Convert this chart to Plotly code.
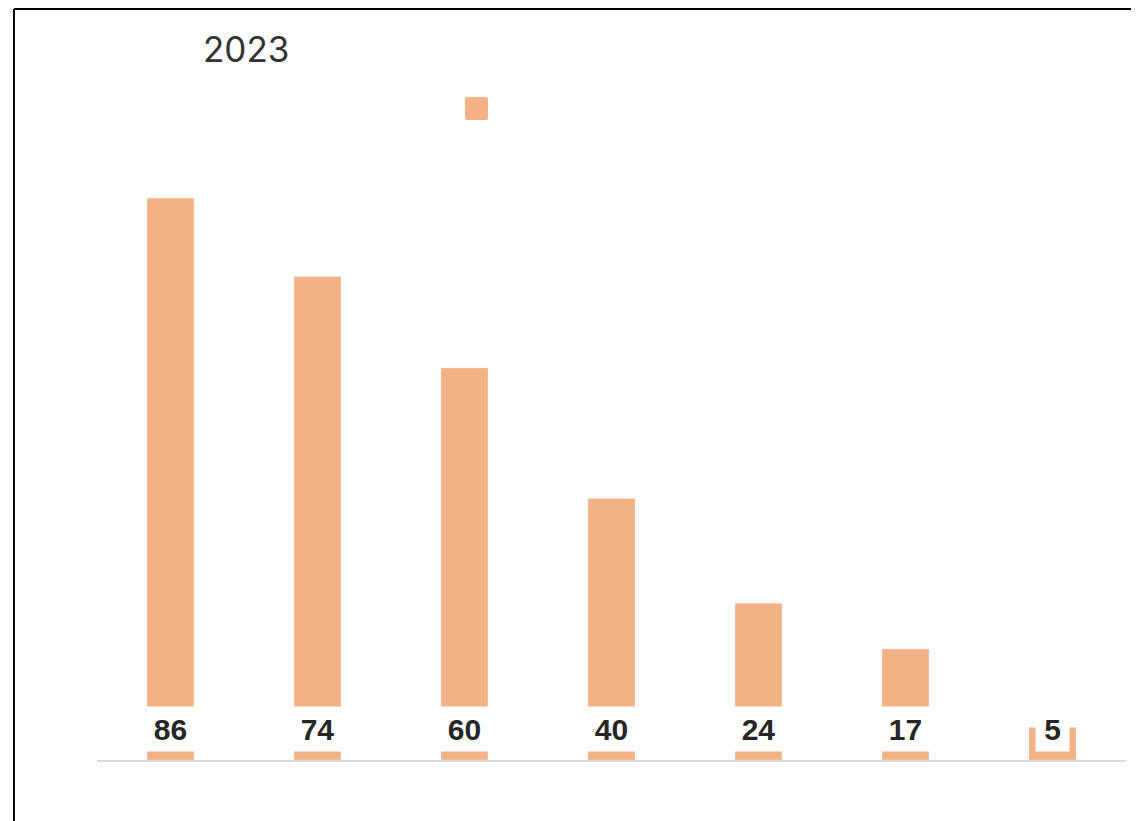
import plotly.graph_objects as go

# data
categories = ["A", "B", "C", "D", "E", "F", "G"]
values = [86, 74, 60, 40, 24, 17, 5]
title_text = "2023"

bar_color = "#F4B183"

fig = go.Figure()
fig.add_trace(go.Bar(x=categories, y=values, marker_color=bar_color,
                     showlegend=False, hoverinfo="skip"))

# value labels sitting in white boxes near the bar base
for cat, v in zip(categories, values):
    txt = str(v)
    fig.add_annotation(x=cat, y=4.75, xref="x", yref="y", text=f"<b>{txt}</b>",
                       showarrow=False, bgcolor="white",
                       width=16 * len(txt) + 15, height=42,
                       font=dict(family="Liberation Sans, Arial", size=30, color="#262626"))

# title
fig.add_annotation(x=0.101, y=1.166, xref="paper", yref="paper", text=title_text,
                   showarrow=False, xanchor="left", yanchor="middle",
                   font=dict(family="Inter, Open Sans", size=35, color="#333333"))

# legend swatch (no text), small rounded corners
x0, x1, y0, y1 = 0.3576, 0.38, 1.0492, 1.0869
rx, ry = 0.002, 0.0033
swatch = (f"M {x0+rx},{y0} L {x1-rx},{y0} Q {x1},{y0} {x1},{y0+ry} "
          f"L {x1},{y1-ry} Q {x1},{y1} {x1-rx},{y1} L {x0+rx},{y1} "
          f"Q {x0},{y1} {x0},{y1-ry} L {x0},{y0+ry} Q {x0},{y0} {x0+rx},{y0} Z")
fig.add_shape(type="path", xref="paper", yref="paper", path=swatch,
              fillcolor=bar_color, line=dict(width=0))

# outer frame: only top and left edges are in view
fig.add_shape(type="line", xref="paper", yref="paper",
              x0=-0.0807, x1=1.1, y0=1.2312, y1=1.2312,
              line=dict(color="black", width=2))
fig.add_shape(type="line", xref="paper", yref="paper",
              x0=-0.0807, x1=-0.0807, y0=-0.2, y1=1.2312,
              line=dict(color="black", width=2))

fig.update_xaxes(showticklabels=False, showgrid=False, zeroline=False,
                 showline=True, linecolor="#d9d9d9", linewidth=2, ticks="")
fig.update_yaxes(visible=False, range=[0, 93.35], showgrid=False)

fig.update_layout(width=1131, height=813, bargap=0.68,
                  plot_bgcolor="white", paper_bgcolor="white",
                  margin=dict(l=89, r=13, t=142, b=61),
                  showlegend=False)

fig.write_html("out.html")
